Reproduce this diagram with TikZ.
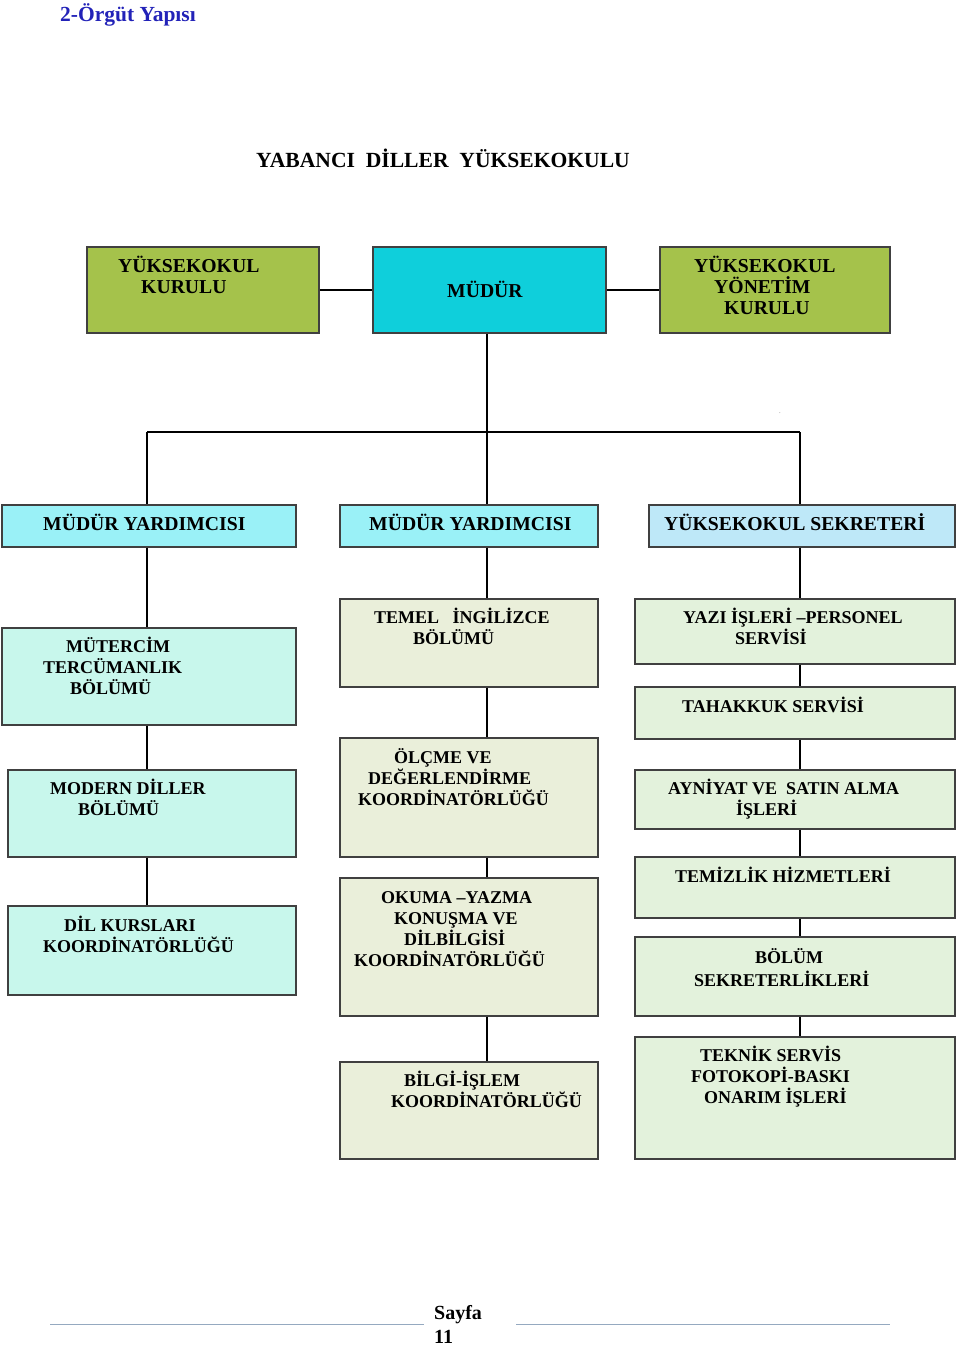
\documentclass[tikz,border=0pt]{standalone}
\usepackage{fontspec}
\setmainfont{Liberation Serif}
\usetikzlibrary{fit,shadows}
\definecolor{cOlive}{HTML}{A5C24B}
\definecolor{cMudur}{HTML}{0FCFDB}
\definecolor{cYard}{HTML}{9AF1F7}
\definecolor{cSek}{HTML}{BEE8F8}
\definecolor{cLeft}{HTML}{C8F7EC}
\definecolor{cMid}{HTML}{EAEFDA}
\definecolor{cRight}{HTML}{E3F2DC}
\definecolor{cTitle}{HTML}{2222B8}
\definecolor{cFoot}{HTML}{95A9C0}
\tikzset{
  box/.style={draw=black!75, line width=1.1pt, inner sep=0pt,
    drop shadow={shadow xshift=1.2pt, shadow yshift=-1.4pt, fill=black!70, opacity=1}},
  conn/.style={draw=black, line width=1.2pt},
  big/.style={font=\bfseries\fontsize{19.7}{21}\selectfont, align=left, inner sep=0pt, anchor=base west},
  sml/.style={font=\bfseries\fontsize{18}{21}\selectfont, align=left, inner sep=0pt, anchor=base west},
}
\begin{document}
\begin{tikzpicture}[x=1pt,y=-1pt]
\useasboundingbox (0,0) rectangle (960,1345);
% titles
\node[font=\bfseries\fontsize{21.5}{24}\selectfont, text=cTitle, inner sep=0pt, anchor=base west] (head) at (60,21) {2-Örgüt Yapısı};
\node[font=\bfseries\fontsize{21.6}{24}\selectfont, inner sep=0pt, anchor=base west] (title) at (256,167) {YABANCI\ \ DİLLER\ \ YÜKSEKOKULU};
\node[font=\tiny, inner sep=0pt] (dot) at (780,413) {.};
% boxes
\node[box, fill=cOlive, fit={(87,247) (319,333)}] (kurul) {};
\node[box, fill=cMudur, fit={(373,247) (606,333)}] (mudur) {};
\node[box, fill=cOlive, fit={(660,247) (890,333)}] (yonetim) {};
\node[box, fill=cYard, fit={(2,505) (296,547)}] (my1) {};
\node[box, fill=cYard, fit={(340,505) (598,547)}] (my2) {};
\node[box, fill=cSek, fit={(649,505) (955,547)}] (sek) {};
\node[box, fill=cLeft, fit={(2,628) (296,725)}] (mut) {};
\node[box, fill=cLeft, fit={(8,770) (296,857)}] (mod) {};
\node[box, fill=cLeft, fit={(8,906) (296,995)}] (dil) {};
\node[box, fill=cMid, fit={(340,599) (598,687)}] (tem) {};
\node[box, fill=cMid, fit={(340,738) (598,857)}] (olc) {};
\node[box, fill=cMid, fit={(340,878) (598,1016)}] (oku) {};
\node[box, fill=cMid, fit={(340,1062) (598,1159)}] (bil) {};
\node[box, fill=cRight, fit={(635,599) (955,664)}] (yaz) {};
\node[box, fill=cRight, fit={(635,687) (955,739)}] (tah) {};
\node[box, fill=cRight, fit={(635,770) (955,829)}] (ayn) {};
\node[box, fill=cRight, fit={(635,857) (955,918)}] (tmz) {};
\node[box, fill=cRight, fit={(635,937) (955,1016)}] (bol) {};
\node[box, fill=cRight, fit={(635,1037) (955,1159)}] (tek) {};
% connectors
\coordinate (bus) at (487,432);
\coordinate (busL) at (147,432);
\coordinate (busR) at (800,432);
\draw[conn] (kurul.east) -- (mudur.west);
\draw[conn] (mudur.east) -- (yonetim.west);
\draw[conn] (mudur.south -| bus) -- (bus);
\draw[conn] (busL) -- (busR);
\draw[conn] (busL) -- (my1.north -| busL);
\draw[conn] (bus) -- (my2.north -| bus);
\draw[conn] (busR) -- (sek.north -| busR);
\draw[conn] (my1.south -| busL) -- (mut.north -| busL);
\draw[conn] (mut.south -| busL) -- (mod.north -| busL);
\draw[conn] (mod.south -| busL) -- (dil.north -| busL);
\draw[conn] (my2.south -| bus) -- (tem.north -| bus);
\draw[conn] (tem.south -| bus) -- (olc.north -| bus);
\draw[conn] (olc.south -| bus) -- (oku.north -| bus);
\draw[conn] (oku.south -| bus) -- (bil.north -| bus);
\draw[conn] (sek.south -| busR) -- (yaz.north -| busR);
\draw[conn] (yaz.south -| busR) -- (tah.north -| busR);
\draw[conn] (tah.south -| busR) -- (ayn.north -| busR);
\draw[conn] (ayn.south -| busR) -- (tmz.north -| busR);
\draw[conn] (tmz.south -| busR) -- (bol.north -| busR);
\draw[conn] (bol.south -| busR) -- (tek.north -| busR);
% texts (base = baseline of last line)
\node[big] (t1) at (118,293.5) {YÜKSEKOKUL\\\hspace*{23pt}KURULU};
\node[big] (t2) at (447,297.5) {MÜDÜR};
\node[big] (t3) at (694,314.5) {YÜKSEKOKUL\\\hspace*{20pt}YÖNETİM\\\hspace*{30pt}KURULU};
\node[big] (t4) at (43,530.5) {MÜDÜR YARDIMCISI};
\node[big] (t5) at (369,530.5) {MÜDÜR YARDIMCISI};
\node[big] (t6) at (664,530.5) {YÜKSEKOKUL SEKRETERİ};
\node[sml] (t7) at (43,694) {\hspace*{23pt}MÜTERCİM\\TERCÜMANLIK\\\hspace*{27pt}BÖLÜMÜ};
\node[sml] (t8) at (50,815) {MODERN DİLLER\\\hspace*{28pt}BÖLÜMÜ};
\node[sml] (t9) at (43,952) {\hspace*{21pt}DİL KURSLARI\\KOORDİNATÖRLÜĞÜ};
\node[sml] (t10) at (374,644) {TEMEL\ \ \ İNGİLİZCE\\\hspace*{39pt}BÖLÜMÜ};
\node[sml] (t11) at (358,805) {\hspace*{36pt}ÖLÇME VE\\\hspace*{10pt}DEĞERLENDİRME\\KOORDİNATÖRLÜĞÜ};
\node[sml] (t12) at (354,966) {\hspace*{27pt}OKUMA –YAZMA\\\hspace*{40pt}KONUŞMA VE\\\hspace*{50pt}DİLBİLGİSİ\\KOORDİNATÖRLÜĞÜ};
\node[sml] (t13) at (391,1107) {\hspace*{13pt}BİLGİ-İŞLEM\\KOORDİNATÖRLÜĞÜ};
\node[sml] (t14) at (683,644) {YAZI İŞLERİ –PERSONEL\\\hspace*{52pt}SERVİSİ};
\node[sml] (t15) at (682,712) {TAHAKKUK SERVİSİ};
\node[sml] (t16) at (668,815) {AYNİYAT VE\ \ SATIN ALMA\\\hspace*{68pt}İŞLERİ};
\node[sml] (t17) at (675,882) {TEMİZLİK HİZMETLERİ};
\node[sml] (t18) at (694,986) {\hspace*{61pt}BÖLÜM\\[2pt]SEKRETERLİKLERİ};
\node[sml] (t19) at (691,1103) {\hspace*{9pt}TEKNİK SERVİS\\FOTOKOPİ-BASKI\\\hspace*{13pt}ONARIM İŞLERİ};
% footer
\coordinate (fl1) at (50,1324);
\coordinate (fl2) at (424,1324);
\coordinate (fr1) at (516,1324);
\coordinate (fr2) at (890,1324);
\draw[cFoot, line width=1pt] (fl1) -- (fl2);
\draw[cFoot, line width=1pt] (fr1) -- (fr2);
\node[font=\bfseries\fontsize{20}{24}\selectfont, align=left, inner sep=0pt, anchor=base west] (page) at (434,1343) {Sayfa\\11};
\end{tikzpicture}
\end{document}
